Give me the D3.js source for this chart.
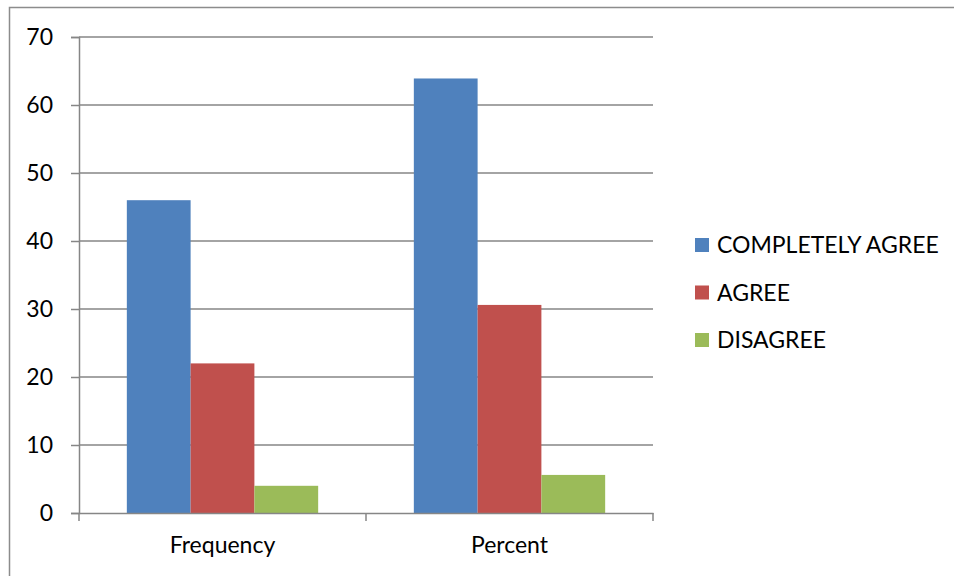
<!DOCTYPE html>
<html>
<head>
<meta charset="utf-8">
<script src="https://cdn.jsdelivr.net/npm/d3@7"></script>
<style>
  html, body { margin: 0; padding: 0; background: #fff; }
  svg { display: block; }
  text { font-family: Lato, "Open Sans", sans-serif; fill: #000; }
</style>
</head>
<body>
<svg id="chart" width="954" height="576"></svg>
<script>
// Survey responses, counts and share of respondents
const categories = ["Frequency", "Percent"];
const seriesNames = ["COMPLETELY AGREE", "AGREE", "DISAGREE"];
const completelyAgree = [46, 63.9];
const agree = [22, 30.6];
const disagree = [4, 5.6];
const yTicks = [0, 10, 20, 30, 40, 50, 60, 70];
const colors = ["#4f81bd", "#c0504d", "#9bbb59"];

const seriesValues = [completelyAgree, agree, disagree];

const svg = d3.select("#chart");
const W = 954, H = 576;
const FONT = "23px";

// outer chart frame
svg.append("rect")
  .attr("x", 9.5).attr("y", 7.5)
  .attr("width", W + 20).attr("height", H + 20)
  .attr("fill", "none").attr("stroke", "#8c8c8c").attr("stroke-width", 1.5);

const plot = { left: 79, right: 653, top: 37, bottom: 513 };

const x0 = d3.scaleBand().domain(categories).range([plot.left, plot.right]).paddingInner(0).paddingOuter(0);
// 150% gap between clusters: each band = 3 bars + 1.5 bar widths of gap
const x1 = d3.scaleBand().domain(seriesNames).range([0, x0.bandwidth()]).paddingInner(0).paddingOuter(0.75);
const y = d3.scaleLinear().domain([0, 70]).range([plot.bottom, plot.top]);

// gridlines
svg.append("g").selectAll("line").data(yTicks.filter(d => d > 0)).join("line")
  .attr("x1", plot.left).attr("x2", plot.right)
  .attr("y1", d => y(d)).attr("y2", d => y(d))
  .attr("stroke", "#868686").attr("stroke-width", 1.5);

// bars
const groups = svg.append("g").selectAll("g").data(categories).join("g")
  .attr("transform", d => `translate(${x0(d)},0)`);
groups.selectAll("rect")
  .data((c, ci) => seriesNames.map((s, si) => ({ s, si, v: seriesValues[si][ci] })))
  .join("rect")
  .attr("x", d => x1(d.s))
  .attr("width", x1.bandwidth())
  .attr("y", d => y(d.v))
  .attr("height", d => y(0) - y(d.v))
  .attr("fill", d => colors[d.si]);

// y axis
const yAxis = svg.append("g").attr("transform", `translate(${plot.left},0)`)
  .call(d3.axisLeft(y).tickValues(yTicks).tickSize(8).tickPadding(18).tickFormat(d3.format("d")));
yAxis.select(".domain").attr("stroke", "#868686").attr("stroke-width", 1.5);
yAxis.selectAll(".tick line").attr("stroke", "#868686").attr("stroke-width", 1.5);
yAxis.selectAll("text").style("font-size", FONT).attr("fill", "#000");

// x axis
const xAxis = svg.append("g").attr("transform", `translate(0,${plot.bottom})`)
  .call(d3.axisBottom(x0).tickSize(0).tickPadding(24));
xAxis.select(".domain").attr("stroke", "#868686").attr("stroke-width", 1.5);
xAxis.selectAll("text").style("font-size", FONT).attr("fill", "#000");
// category separator ticks
const sepPositions = [plot.left].concat(categories.map(c => x0(c) + x0.bandwidth()));
xAxis.append("g").selectAll("line").data(sepPositions).join("line")
  .attr("x1", d => d).attr("x2", d => d)
  .attr("y1", 0).attr("y2", 8)
  .attr("stroke", "#868686").attr("stroke-width", 1.5);

// legend
const legend = svg.append("g").attr("transform", "translate(695,245)");
const items = legend.selectAll("g").data(seriesNames).join("g")
  .attr("transform", (d, i) => `translate(0,${i * 47.5})`);
items.append("rect").attr("x", 0).attr("y", -7).attr("width", 14).attr("height", 14)
  .attr("fill", (d, i) => colors[i]);
items.append("text").attr("x", 22).attr("y", 0).attr("dy", "0.35em")
  .style("font-size", FONT).text(d => d);
</script>
</body>
</html>
